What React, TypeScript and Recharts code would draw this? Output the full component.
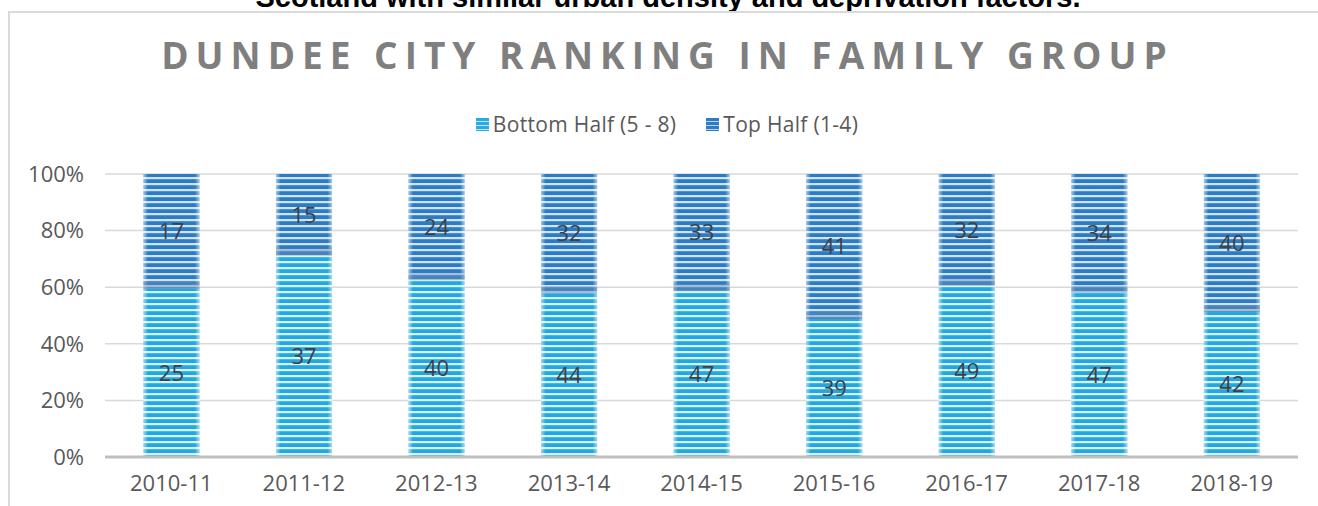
import React from 'react';
import { BarChart, Bar, XAxis, YAxis, CartesianGrid, Legend, LabelList } from 'recharts';

const seasons = ['2010-11', '2011-12', '2012-13', '2013-14', '2014-15', '2015-16', '2016-17', '2017-18', '2018-19'];
const bottomHalf = [25, 37, 40, 44, 47, 39, 49, 47, 42];
const topHalf = [17, 15, 24, 32, 33, 41, 32, 34, 40];
const yTicks = [0, 0.2, 0.4, 0.6, 0.8, 1];

const data = seasons.map((season, i) => ({ season, bottom: bottomHalf[i], top: topHalf[i] }));

const FONT = '"Open Sans", "DejaVu Sans", sans-serif';

// striped bar with faded edges, roughly like the Excel pattern fill
const StripedBar = (props: any) => {
  const { x, y, width, height, patternId, shadow } = props;
  if (!height || height <= 0) return null;
  return (
    <g>
      <rect x={x} y={y} width={width} height={height} fill={`url(#${patternId})`} />
      <rect x={x} y={y} width={width} height={height} fill="url(#edgeGlow)" />
      {shadow && <rect x={x} y={y + height - 7} width={width} height={7} fill="#6b8fb0" opacity={0.45} />}
    </g>
  );
};

const renderLegend = () => (
  <div style={{ display: 'flex', justifyContent: 'center', gap: 30, fontFamily: FONT, fontSize: 21, lineHeight: '29px', color: '#595959', paddingLeft: 16 }}>
    {[
      { name: 'Bottom Half (5 - 8)', id: 'pBottom' },
      { name: 'Top Half (1-4)', id: 'pTop' },
    ].map((it) => (
      <div key={it.name} style={{ display: 'flex', alignItems: 'center' }}>
        <svg width={13} height={13} style={{ marginRight: 4 }}>
          <rect width={13} height={13} fill={`url(#${it.id}L)`} />
        </svg>
        <span style={{ letterSpacing: 0.3 }}>{it.name}</span>
      </div>
    ))}
  </div>
);

export default function App() {
  return (
    <div style={{ position: 'absolute', left: 0, top: 0, width: 1318, height: 506, overflow: 'hidden', background: '#fff' }}>
      <div
        style={{
          position: 'absolute', top: -17.5, left: 0, width: 1336, textAlign: 'center', lineHeight: '29px',
          fontFamily: '"Liberation Sans", Arial, sans-serif', fontWeight: 'bold', fontSize: 29, color: '#000',
        }}
      >
        Scotland with similar urban density and deprivation factors.
      </div>
      <div style={{ position: 'absolute', left: 8, top: 11, width: 1400, height: 600, border: '2px solid #d9d9d9' }} />
      <div
        style={{
          position: 'absolute', top: 29, left: 0, width: 1335, textAlign: 'center',
          fontFamily: FONT, fontWeight: 'bold', fontSize: 37, letterSpacing: 7, color: '#7f7f7f',
        }}
      >
        DUNDEE CITY RANKING IN FAMILY GROUP
      </div>
      <svg width={0} height={0} style={{ position: 'absolute' }}>
        <defs>
          <pattern id="pBottomL" patternUnits="userSpaceOnUse" width={13} height={4}>
            <rect width={13} height={4} fill="#29abe2" />
            <rect y={3} width={13} height={1} fill="#bfe6f7" />
          </pattern>
          <pattern id="pTopL" patternUnits="userSpaceOnUse" width={13} height={4}>
            <rect width={13} height={4} fill="#2e7dc4" />
            <rect y={3} width={13} height={1} fill="#b9d3ee" />
          </pattern>
        </defs>
      </svg>
      <div style={{ position: 'absolute', left: 0, top: 0 }}>
        <BarChart
          width={1318}
          height={506}
          data={data}
          stackOffset="expand"
          barCategoryGap="29%"
          margin={{ top: 145, right: 20, bottom: 19, left: 25 }}
        >
          <defs>
            <pattern id="pBottom" patternUnits="userSpaceOnUse" width={60} height={6}>
              <rect width={60} height={6} fill="#22a8e0" />
              <rect y={3} width={60} height={2.2} fill="#d7f0fb" />
            </pattern>
            <pattern id="pTop" patternUnits="userSpaceOnUse" width={60} height={6}>
              <rect width={60} height={6} fill="#2a7cc6" />
              <rect y={3} width={60} height={2.2} fill="#d3e3f4" />
            </pattern>
            <linearGradient id="edgeGlow" x1="0" y1="0" x2="1" y2="0">
              <stop offset="0" stopColor="#ffffff" stopOpacity={0.55} />
              <stop offset="0.08" stopColor="#ffffff" stopOpacity={0} />
              <stop offset="0.92" stopColor="#ffffff" stopOpacity={0} />
              <stop offset="1" stopColor="#ffffff" stopOpacity={0.55} />
            </linearGradient>
          </defs>
          <CartesianGrid vertical={false} stroke="#d9d9d9" strokeWidth={1.5} />
          <XAxis
            dataKey="season"
            height={30}
            tickLine={false}
            axisLine={{ stroke: '#bfbfbf', strokeWidth: 3 }}
            tick={{ fill: '#595959', fontSize: 22, fontFamily: FONT }}
            tickMargin={12}
          />
          <YAxis
            width={80}
            domain={[0, 1]}
            ticks={yTicks}
            tickFormatter={(v: number) => `${Math.round(v * 100)}%`}
            axisLine={false}
            tickLine={false}
            tick={{ fill: '#595959', fontSize: 22, fontFamily: FONT }}
            tickMargin={15}
          />
          <Legend
            verticalAlign="top"
            content={renderLegend}
            wrapperStyle={{ position: 'absolute', top: 110, left: 0, width: 1318, height: 29 }}
          />
          <Bar
            dataKey="bottom"
            name="Bottom Half (5 - 8)"
            stackId="a"
            isAnimationActive={false}
            shape={(p: any) => <StripedBar {...p} patternId="pBottom" />}
          >
            <LabelList dataKey="bottom" position="center" fill="#404040" fontSize={22} fontFamily={FONT} />
          </Bar>
          <Bar
            dataKey="top"
            name="Top Half (1-4)"
            stackId="a"
            isAnimationActive={false}
            shape={(p: any) => <StripedBar {...p} patternId="pTop" shadow />}
          >
            <LabelList dataKey="top" position="center" fill="#404040" fontSize={22} fontFamily={FONT} />
          </Bar>
        </BarChart>
      </div>
    </div>
  );
}
